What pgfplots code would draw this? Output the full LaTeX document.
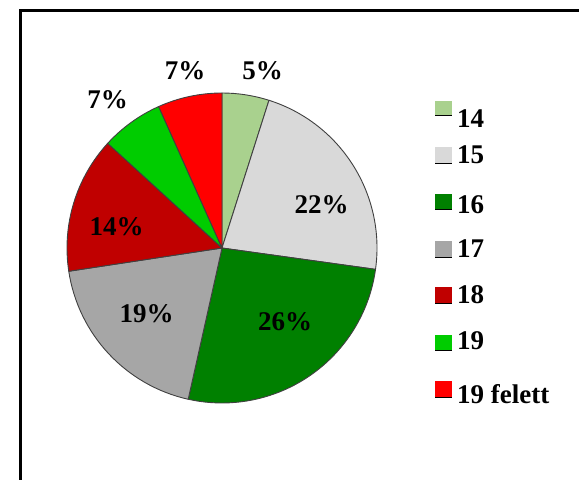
\documentclass[border=0pt]{standalone}
\usepackage{pgfplots}
\usepackage{pgfplotstable}
\pgfplotsset{compat=1.18}
\usepackage{fontspec}
\setmainfont{Liberation Serif}
\definecolor{c14}{HTML}{A9D18E}
\definecolor{c15}{HTML}{D9D9D9}
\definecolor{c16}{HTML}{008000}
\definecolor{c17}{HTML}{A6A6A6}
\definecolor{c18}{HTML}{C00000}
\definecolor{c19}{HTML}{00CC00}
\definecolor{c20}{HTML}{FF0000}
\definecolor{pieedge}{HTML}{404040}
% value = share (%), pct = printed label, lx/ly = label position,
% sqt/sqb = legend square top/bottom, tb = legend text baseline (pixel rows from top)
\pgfplotstableread[col sep=comma]{
label,value,pct,color,lx,ly,sqt,sqb,tb
14,4.9,5,c14,262.5,400,101,115,127
15,22.3,22,c15,321.5,267,147,163,163
16,26.3,26,c16,285,150,194,209,213
17,19.1,19,c17,146.5,158,241,257,257
18,14.2,14,c18,116.5,245,287,303,303
19,6.5,7,c19,107.5,372,335,350,349
19 felett,6.7,7,c20,185,400,381,397,403
}\piedata
\begin{document}
\begin{tikzpicture}
\begin{axis}[
  width=579bp, height=480bp, scale only axis,
  xmin=0, xmax=579, ymin=0, ymax=480,
  hide axis, clip=false,
]
\pgfplotsextra{%
  \draw[line width=3bp] (axis cs:20,-30) -- (axis cs:20,469.5) -- (axis cs:640,469.5);
  \gdef\cum{0}%
  \foreach \i in {0,...,6}{%
    \pgfplotstablegetelem{\i}{value}\of\piedata \edef\v{\pgfplotsretval}%
    \pgfplotstablegetelem{\i}{color}\of\piedata \edef\c{\pgfplotsretval}%
    \pgfmathsetmacro\sa{90-3.6*\cum}%
    \pgfmathsetmacro\ea{90-3.6*(\cum+\v)}%
    \filldraw[fill=\c, draw=pieedge, line width=0.9bp, line join=round]
      (axis cs:222,232) -- ++(\sa:155bp) arc[start angle=\sa, end angle=\ea, radius=155bp] -- cycle;
    \pgfmathsetmacro\nc{\cum+\v}\xdef\cum{\nc}%
  }%
  \foreach \i in {0,...,6}{%
    \pgfplotstablegetelem{\i}{pct}\of\piedata \edef\p{\pgfplotsretval}%
    \pgfplotstablegetelem{\i}{lx}\of\piedata \edef\lx{\pgfplotsretval}%
    \pgfplotstablegetelem{\i}{ly}\of\piedata \edef\ly{\pgfplotsretval}%
    \node[anchor=base, inner sep=0pt, font=\bfseries\fontsize{27bp}{30bp}\selectfont]
      at (axis cs:\lx,\ly) {\p\%};
    \pgfplotstablegetelem{\i}{label}\of\piedata \edef\lab{\pgfplotsretval}%
    \pgfplotstablegetelem{\i}{color}\of\piedata \edef\c{\pgfplotsretval}%
    \pgfplotstablegetelem{\i}{sqt}\of\piedata \edef\st{\pgfplotsretval}%
    \pgfplotstablegetelem{\i}{sqb}\of\piedata \edef\sb{\pgfplotsretval}%
    \pgfplotstablegetelem{\i}{tb}\of\piedata \edef\tb{\pgfplotsretval}%
    \fill[fill=\c] (axis cs:435,480-\st) rectangle (axis cs:452,480-\sb);
    \draw[black, line width=0.8bp] (axis cs:435,480-\sb) -- (axis cs:452,480-\sb);
    \node[anchor=base west, inner sep=0pt, font=\bfseries\fontsize{27bp}{30bp}\selectfont]
      at (axis cs:457,480-\tb) {\lab};
  }%
}
\end{axis}
\pgfresetboundingbox
\useasboundingbox (0,0) rectangle (579bp,480bp);
\end{tikzpicture}
\end{document}
